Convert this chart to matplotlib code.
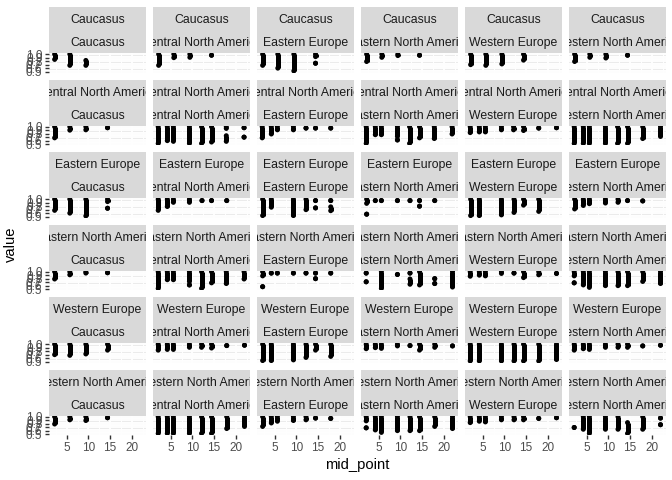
import matplotlib
matplotlib.use("Agg")
import matplotlib.pyplot as plt

plt.rcParams["font.family"] = ["Liberation Sans", "DejaVu Sans"]

regions = ["Caucasus", "Central North America", "Eastern Europe",
           "Eastern North America", "Western Europe", "Western North America"]

x_breaks = [5, 10, 15, 20]
y_breaks = [0.5, 0.6, 0.7, 0.8, 0.9, 1.0]
y_labels = ["0.5", "0.6", "0.7", "0.8", "0.9", "1.0"]

# one entry per vertical run of points: pair of regions (i<=j), mid_point, low value, high value
seg_pair = [
    "00", "00", "00",
    "01", "01", "01", "01",
    "02", "02", "02", "02", "02",
    "03", "03", "03", "03",
    "04", "04", "04", "04",
    "05", "05", "05", "05",
    "11", "11", "11", "11", "11", "11", "11", "11", "11", "11",
    "12", "12", "12", "12", "12", "12", "12",
    "13", "13", "13", "13", "13", "13", "13", "13", "13",
    "14", "14", "14", "14", "14", "14", "14", "14",
    "15", "15", "15", "15", "15", "15", "15", "15",
    "22", "22", "22", "22", "22", "22", "22", "22",
    "23", "23", "23", "23", "23", "23", "23", "23", "23",
    "24", "24", "24", "24", "24", "24",
    "25", "25", "25", "25", "25", "25", "25",
    "33", "33", "33", "33", "33", "33", "33", "33", "33", "33",
    "34", "34", "34", "34", "34", "34", "34", "34",
    "35", "35", "35", "35", "35", "35", "35", "35", "35",
    "44", "44", "44", "44", "44", "44", "44",
    "45", "45", "45", "45", "45", "45", "45", "45",
    "55", "55", "55", "55", "55", "55", "55", "55", "55",
]
seg_x = [
    2.2, 5.7, 9.4,
    2.2, 5.7, 9.4, 14.4,
    2.2, 5.7, 9.4, 14.4, 14.4,
    2.2, 5.7, 9.4, 14.4,
    2.2, 5.7, 9.4, 14.4,
    2.2, 5.7, 9.4, 14.4,
    2.1, 4.2, 5.6, 9.3, 12.1, 14.4, 17.8, 17.8, 21.9, 21.9,
    2.1, 4.2, 5.6, 9.3, 12.2, 14.4, 17.9,
    2.1, 4.2, 5.6, 9.3, 9.3, 12.1, 14.4, 17.8, 21.9,
    2.1, 4.2, 5.6, 9.3, 12.1, 14.4, 17.9, 22.0,
    2.1, 4.2, 5.6, 9.3, 12.1, 14.4, 17.9, 22.0,
    2.2, 4.2, 9.3, 12.2, 14.4, 14.4, 17.9, 17.9,
    2.2, 2.2, 4.2, 5.6, 9.3, 12.2, 14.4, 14.4, 17.9,
    2.2, 4.2, 9.3, 12.2, 14.4, 17.9,
    2.2, 4.2, 5.6, 9.3, 12.2, 14.4, 17.9,
    2.1, 2.1, 5.6, 9.3, 12.2, 12.2, 14.4, 17.9, 17.9, 22.0,
    2.1, 4.2, 5.6, 9.3, 12.2, 14.4, 17.9, 22.0,
    2.1, 2.1, 4.2, 5.6, 9.3, 12.2, 14.4, 17.9, 22.0,
    2.1, 4.2, 9.3, 12.2, 14.4, 17.9, 22.0,
    2.1, 4.2, 5.6, 9.3, 12.2, 14.4, 17.9, 22.0,
    2.1, 4.2, 5.6, 9.3, 12.2, 14.4, 17.9, 22.0, 22.0,
]
seg_lo = [
    0.85, 0.68, 0.68,
    0.68, 0.90, 0.91, 0.97,
    0.68, 0.60, 0.52, 0.93, 0.74,
    0.79, 0.91, 0.96, 0.97,
    0.70, 0.68, 0.72, 0.83,
    0.79, 0.91, 0.89, 0.97,
    0.52, 0.60, 0.58, 0.52, 0.52, 0.56, 0.95, 0.58, 0.97, 0.70,
    0.68, 0.79, 0.91, 0.91, 0.96, 0.96, 0.96,
    0.52, 0.77, 0.77, 0.72, 0.62, 0.52, 0.68, 0.66, 0.79,
    0.83, 0.85, 0.85, 0.91, 0.91, 0.89, 0.96, 0.97,
    0.52, 0.52, 0.52, 0.52, 0.52, 0.52, 0.66, 0.72,
    0.53, 0.77, 0.53, 0.70, 0.96, 0.75, 0.96, 0.67,
    0.88, 0.57, 0.96, 0.96, 0.96, 0.96, 0.96, 0.80, 0.96,
    0.53, 0.53, 0.55, 0.62, 0.83, 0.65,
    0.72, 0.82, 0.87, 0.89, 0.91, 0.96, 0.95,
    0.96, 0.71, 0.52, 0.92, 0.96, 0.64, 0.62, 0.80, 0.66, 0.56,
    0.87, 0.90, 0.88, 0.95, 0.96, 0.83, 0.91, 0.95,
    0.88, 0.68, 0.62, 0.55, 0.60, 0.60, 0.60, 0.72, 0.66,
    0.52, 0.52, 0.52, 0.52, 0.52, 0.52, 0.56,
    0.83, 0.87, 0.85, 0.91, 0.91, 0.91, 0.95, 0.97,
    0.69, 0.64, 0.52, 0.64, 0.64, 0.52, 0.64, 0.96, 0.77,
]
seg_hi = [
    1.0, 1.0, 0.82,
    1.0, 1.0, 1.0, 0.97,
    1.0, 1.0, 1.0, 1.0, 0.74,
    1.0, 1.0, 1.0, 0.97,
    1.0, 1.0, 1.0, 1.0,
    1.0, 1.0, 1.0, 0.97,
    1.0, 1.0, 1.0, 1.0, 1.0, 1.0, 1.0, 0.74, 0.97, 0.70,
    1.0, 1.0, 1.0, 1.0, 0.96, 0.96, 0.96,
    1.0, 1.0, 1.0, 1.0, 0.62, 1.0, 1.0, 1.0, 1.0,
    1.0, 1.0, 1.0, 1.0, 1.0, 1.0, 0.96, 0.97,
    1.0, 1.0, 1.0, 1.0, 1.0, 1.0, 1.0, 1.0,
    1.0, 1.0, 1.0, 1.0, 0.96, 0.75, 0.96, 0.78,
    1.0, 0.57, 0.96, 0.96, 0.96, 0.96, 0.96, 0.80, 0.96,
    1.0, 1.0, 1.0, 1.0, 1.0, 1.0,
    1.0, 1.0, 1.0, 1.0, 1.0, 0.96, 0.95,
    0.96, 0.71, 1.0, 0.92, 0.96, 0.79, 1.0, 0.80, 0.66, 1.0,
    1.0, 1.0, 1.0, 1.0, 0.96, 1.0, 1.0, 0.95,
    1.0, 0.68, 1.0, 1.0, 1.0, 1.0, 1.0, 1.0, 1.0,
    1.0, 1.0, 1.0, 1.0, 1.0, 1.0, 1.0,
    1.0, 1.0, 1.0, 1.0, 1.0, 1.0, 0.95, 0.97,
    0.69, 1.0, 1.0, 1.0, 1.0, 0.83, 1.0, 0.96, 0.77,
]

# ---------------- layout (pixels, ggplot-like) ----------------
W, H = 672, 480
fig = plt.figure(figsize=(W / 100, H / 100), dpi=100)

PX = 72 / 100  # points per pixel
left0, top0 = 49.0, 7.3
col_pitch, panel_w = 104.0, 96.7
row_pitch, strip_h, panel_h = 72.5, 23.0, 19.2

STRIP_FILL = "#D9D9D9"
PANEL_BG = "#EBEBEB"
TXT = "#1A1A1A"
AXTXT = "#4D4D4D"
fs_strip = 12.3 * PX
fs_small = 11.7 * PX
fs_title = 14.7 * PX


def rect(l, t, w, h):
    return [l / W, 1 - (t + h) / H, w / W, h / H]


for r in range(6):
    for c in range(6):
        l = left0 + c * col_pitch
        t = top0 + r * row_pitch
        # strips
        sax = fig.add_axes(rect(l, t, panel_w, 2 * strip_h))
        sax.set_facecolor(STRIP_FILL)
        sax.set_xlim(0, 1)
        sax.set_ylim(0, 1)
        sax.set_xticks([])
        sax.set_yticks([])
        for s in sax.spines.values():
            s.set_visible(False)
        sax.text(0.5, 0.72, regions[r], ha="center", va="center",
                 fontsize=fs_strip, color=TXT, clip_on=True)
        sax.text(0.5, 0.22, regions[c], ha="center", va="center",
                 fontsize=fs_strip, color=TXT, clip_on=True)

        # panel
        ax = fig.add_axes(rect(l, t + 2 * strip_h, panel_w, panel_h))
        ax.set_facecolor(PANEL_BG)
        ax.set_xlim(0.9, 23.2)
        ax.set_ylim(0.475, 1.025)
        for s in ax.spines.values():
            s.set_visible(False)
        ax.set_xticks(x_breaks)
        ax.set_xticks([2.5, 7.5, 12.5, 17.5, 22.5], minor=True)
        ax.set_yticks(y_breaks)
        ax.set_yticks([0.55, 0.65, 0.75, 0.85, 0.95], minor=True)
        ax.grid(which="major", color="white", linewidth=1.9 * PX)
        ax.grid(which="minor", color="white", linewidth=0.95 * PX)
        ax.set_axisbelow(True)
        ax.tick_params(which="minor", length=0)
        ax.tick_params(which="major", length=3.7 * PX, width=1.0,
                       color="#333333", labelsize=fs_small,
                       labelcolor=AXTXT, pad=2.9 * PX)
        if c == 0:
            ax.set_yticklabels(y_labels)
        else:
            ax.tick_params(axis="y", which="major", length=0, labelleft=False)
        if r == 5:
            ax.set_xticklabels([str(v) for v in x_breaks])
        else:
            ax.tick_params(axis="x", which="major", length=0, labelbottom=False)

        key = f"{min(r, c)}{max(r, c)}"
        xs, lo, hi = [], [], []
        for p, x, a, b in zip(seg_pair, seg_x, seg_lo, seg_hi):
            if p == key:
                xs.append(x)
                lo.append(a)
                hi.append(b)
        d = 5.0 * PX
        ax.vlines(xs, lo, hi, colors="black", linewidth=d, capstyle="butt",
                  zorder=3)
        ax.scatter(xs + xs, lo + hi, s=d * d, color="black",
                   edgecolors="none", zorder=3)

# axis titles
panels_left = left0
panels_right = left0 + 5 * col_pitch + panel_w
fig.text((panels_left + panels_right) / 2 / W, 1 - 465 / H, "mid_point",
         ha="center", va="center", fontsize=fs_title, color="black")
ytop = top0 + 2 * strip_h
ybot = top0 + 5 * row_pitch + 2 * strip_h + panel_h
fig.text(10.5 / W, 1 - (ytop + ybot) / 2 / H, "value", rotation=90,
         ha="center", va="center", fontsize=fs_title, color="black")

fig.savefig("out.png", dpi=100, facecolor="white")
